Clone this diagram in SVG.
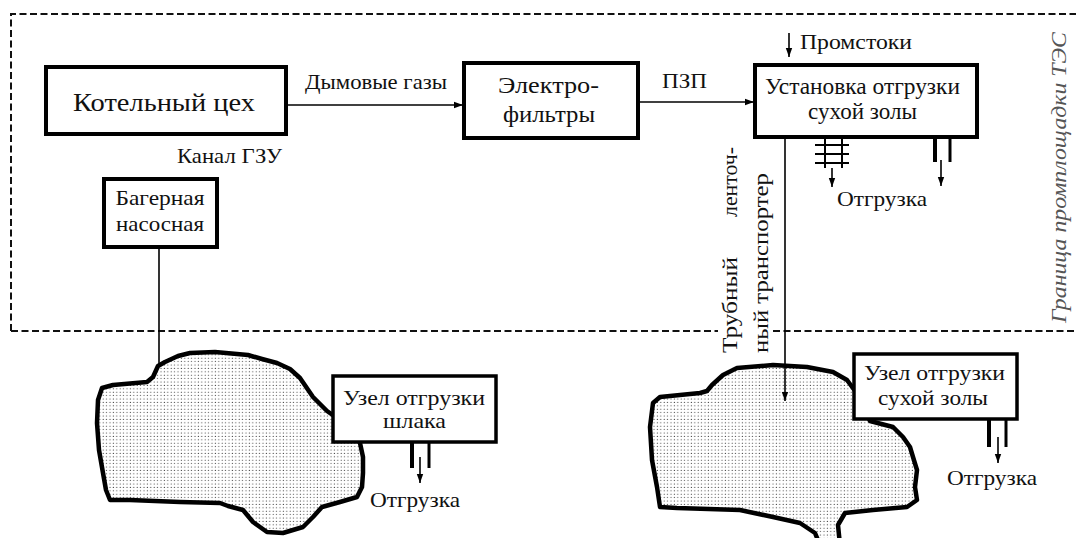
<svg xmlns="http://www.w3.org/2000/svg" width="1076" height="538" viewBox="0 0 1076 538">
<style>
text{font-family:"Liberation Serif","DejaVu Serif","Noto Serif","Times New Roman",serif;fill:#111}
.box{fill:#fff;stroke:#000;stroke-width:4}
.ubox{fill:#fff;stroke:#000;stroke-width:3.5}
.con{fill:none;stroke:#000;stroke-width:1.6}
.dash{fill:none;stroke:#111;stroke-width:2;stroke-dasharray:7 3.5}
.blob{fill:url(#dots);stroke:#000;stroke-width:4.5;stroke-linejoin:round}
.bar{stroke:#000;fill:none}
</style>
<defs>
<pattern id="dots" width="3.4" height="3.4" patternUnits="userSpaceOnUse">
<rect width="3.4" height="3.4" fill="#fff"/>
<circle cx="1.2" cy="1.2" r="0.6" fill="#444"/>
</pattern>
<marker id="arr" markerUnits="userSpaceOnUse" markerWidth="10" markerHeight="8" refX="9" refY="4" orient="auto">
<path d="M0,0.8 L9,4 L0,7.2 Z" fill="#000"/>
</marker>
</defs>
<rect width="1076" height="538" fill="#fff"/>

<g id="border">
<path class="dash" d="M11,331 L11,14 L1076,14"/>
<path class="dash" d="M11,331 L718,331"/>
<path class="dash" d="M773,331 L1076,331"/>
<text transform="translate(1066,323) rotate(-90)" font-size="20" font-style="italic" textLength="291" lengthAdjust="spacingAndGlyphs" style="fill:#555">Граница промплощадки ТЭС</text>
</g>

<g id="blob-left">
<path class="blob" d="M158,366 L165,362 L178,356 L190,353 L215,352 L248,355 L262,359 L277,363 L290,369 L300,378 L313,397 L327,411 L337,418 L345,425 L354,433 L360,443 L363,457 L363,473 L362,487 L357,497 L340,502 L322,507 L313,517 L303,527 L283,533 L267,532 L253,522 L243,510 L228,506 L220,503 L180,502 L130,500 L110,500 L106,490 L103,473 L99,450 L97,423 L98,400 L102,388 L113,385 L147,382 L153,377 Z"/>
</g>
<g id="blob-right">
<path class="blob" d="M653,403 L660,397 L700,393 L707,391 L712,385 L723,375 L737,368 L773,365 L807,367 L833,372 L847,380 L858,395 L870,421 L893,427 L903,437 L910,447 L913,457 L917,470 L915,487 L917,500 L907,507 L873,510 L845,513 L838,525 L840,545 L820,545 L815,533 L800,523 L773,517 L740,510 L677,508 L660,507 L657,487 L652,460 L650,427 Z"/>
</g>

<g id="connectors">
<line class="con" x1="286" y1="105" x2="463" y2="105" marker-end="url(#arr)"/>
<line class="con" x1="638" y1="102" x2="754" y2="102" marker-end="url(#arr)"/>
<line class="con" x1="789" y1="33" x2="789" y2="57" marker-end="url(#arr)"/>
<line class="con" x1="785" y1="137" x2="785" y2="401" marker-end="url(#arr)"/>
<line class="con" x1="159" y1="247" x2="159" y2="367"/>
<line class="con" x1="832" y1="168" x2="832" y2="187" marker-end="url(#arr)"/>
<line class="con" x1="941" y1="160" x2="941" y2="186" marker-end="url(#arr)"/>
<line class="con" x1="420" y1="457" x2="420" y2="483" marker-end="url(#arr)"/>
<line class="con" x1="998" y1="437" x2="998" y2="463" marker-end="url(#arr)"/>
</g>

<g id="kotelny">
<rect class="box" x="46" y="67" width="240" height="67"/>
<text x="164" y="111" font-size="26" text-anchor="middle" textLength="182" lengthAdjust="spacingAndGlyphs">Котельный цех</text>
</g>
<text x="305" y="89" font-size="21" textLength="142" lengthAdjust="spacingAndGlyphs">Дымовые газы</text>

<g id="elektrofiltry">
<rect class="box" x="464" y="63" width="174" height="75"/>
<text x="548.5" y="93" font-size="24" text-anchor="middle" textLength="101" lengthAdjust="spacingAndGlyphs">Электро-</text>
<text x="549" y="122" font-size="24" text-anchor="middle" textLength="92" lengthAdjust="spacingAndGlyphs">фильтры</text>
</g>
<text x="662" y="88" font-size="21" textLength="45" lengthAdjust="spacingAndGlyphs">ПЗП</text>

<text x="800" y="49" font-size="21" textLength="112" lengthAdjust="spacingAndGlyphs">Промстоки</text>
<g id="ustanovka">
<rect class="box" x="755" y="65" width="222" height="72"/>
<text x="862.5" y="94" font-size="23" text-anchor="middle" textLength="195" lengthAdjust="spacingAndGlyphs">Установка отгрузки</text>
<text x="862.5" y="119" font-size="23" text-anchor="middle" textLength="109" lengthAdjust="spacingAndGlyphs">сухой золы</text>
<g class="bar" stroke-width="2">
<line x1="825" y1="137" x2="825" y2="168"/>
<line x1="842" y1="137" x2="842" y2="168"/>
<line x1="815" y1="145" x2="849" y2="145"/>
<line x1="815" y1="154" x2="849" y2="154"/>
<line x1="815" y1="163" x2="849" y2="163"/>
</g>
<line class="bar" x1="935" y1="137" x2="935" y2="162" stroke-width="4"/>
<line class="bar" x1="950" y1="137" x2="950" y2="162" stroke-width="3"/>
<text x="837" y="206" font-size="22" textLength="90" lengthAdjust="spacingAndGlyphs">Отгрузка</text>
</g>

<text x="177" y="163" font-size="21" textLength="105" lengthAdjust="spacingAndGlyphs">Канал ГЗУ</text>

<g id="bagernaya">
<rect class="box" x="104" y="179" width="113" height="68"/>
<text x="160" y="205" font-size="21" text-anchor="middle" textLength="89" lengthAdjust="spacingAndGlyphs">Багерная</text>
<text x="160" y="231" font-size="21" text-anchor="middle" textLength="88" lengthAdjust="spacingAndGlyphs">насосная</text>
</g>

<g id="transport-label">
<text transform="translate(737,353) rotate(-90)" font-size="21" textLength="96" lengthAdjust="spacingAndGlyphs">Трубный</text>
<text transform="translate(737,353) rotate(-90)" x="206" font-size="21" text-anchor="end" textLength="70" lengthAdjust="spacingAndGlyphs">ленточ-</text>
<text transform="translate(768,353) rotate(-90)" font-size="21" textLength="180" lengthAdjust="spacingAndGlyphs">ный транспортер</text>
</g>

<g id="uzel-shlak">
<rect class="ubox" x="333" y="376" width="163" height="66"/>
<text x="414" y="405" font-size="22" text-anchor="middle" textLength="142" lengthAdjust="spacingAndGlyphs">Узел отгрузки</text>
<text x="414.5" y="428" font-size="22" text-anchor="middle" textLength="63" lengthAdjust="spacingAndGlyphs">шлака</text>
<line class="bar" x1="412" y1="442" x2="412" y2="468" stroke-width="4"/>
<line class="bar" x1="429" y1="442" x2="429" y2="468" stroke-width="3"/>
<text x="370" y="507" font-size="22" textLength="90" lengthAdjust="spacingAndGlyphs">Отгрузка</text>
</g>

<g id="uzel-zola">
<rect class="ubox" x="854" y="354" width="163" height="65"/>
<text x="934.5" y="380" font-size="22" text-anchor="middle" textLength="141" lengthAdjust="spacingAndGlyphs">Узел отгрузки</text>
<text x="933" y="405" font-size="22" text-anchor="middle" textLength="110" lengthAdjust="spacingAndGlyphs">сухой золы</text>
<line class="bar" x1="989" y1="419" x2="989" y2="447" stroke-width="4"/>
<line class="bar" x1="1006" y1="419" x2="1006" y2="447" stroke-width="3"/>
<text x="947" y="485" font-size="22" textLength="90" lengthAdjust="spacingAndGlyphs">Отгрузка</text>
</g>
</svg>
